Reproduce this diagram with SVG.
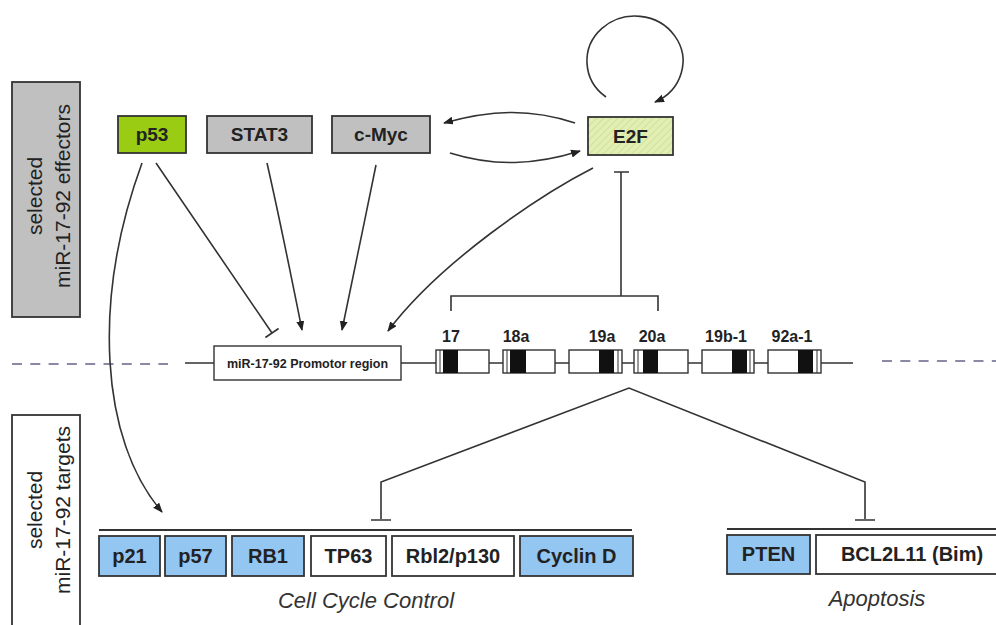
<svg xmlns="http://www.w3.org/2000/svg" width="996" height="625" viewBox="0 0 996 625">
<style>
text{font-family:"Liberation Sans",Arial,sans-serif;fill:#222}
.lbl{font-size:21px;text-anchor:middle}
.nb{font-size:19px;font-weight:bold;text-anchor:middle}
.tb{font-size:20px;font-weight:bold;text-anchor:middle}
.gl{font-size:16px;font-weight:bold;text-anchor:middle}
.cat{font-size:22px;font-style:italic;text-anchor:middle;fill:#333}
.box{stroke:#333;stroke-width:1.8}
.gray{fill:#c0c0c0}
.blue{fill:#94c6f2}
.white{fill:#fff}
.ln{fill:none;stroke:#333;stroke-width:1.6}
.dash{fill:none;stroke:#8a8aa6;stroke-width:2.2;stroke-dasharray:10 8.3}
.gene{fill:#fff;stroke:#333;stroke-width:1.4}
</style>
<defs>
<marker id="arr" markerUnits="userSpaceOnUse" markerWidth="11" markerHeight="9" refX="9" refY="4" orient="auto">
<path d="M0,0 L10,4 L0,8 z" fill="#222"/>
</marker>
<pattern id="hatch" patternUnits="userSpaceOnUse" width="5" height="5" patternTransform="rotate(45)">
<rect width="5" height="5" fill="#e2efb4"/>
<line x1="0" y1="0" x2="0" y2="5" stroke="#c9dc8c" stroke-width="1.4"/>
</pattern>
</defs>
<rect width="996" height="625" fill="#fff"/>

<g id="label-effectors">
<rect class="box gray" x="12" y="82" width="68" height="235"/>
<text class="lbl" transform="translate(42,196) rotate(-90)">selected</text>
<text class="lbl" transform="translate(70,196) rotate(-90)">miR-17-92 effectors</text>
</g>
<g id="label-targets">
<rect class="box white" x="12" y="415" width="68" height="230"/>
<text class="lbl" transform="translate(42,510) rotate(-90)">selected</text>
<text class="lbl" transform="translate(70,510) rotate(-90)">miR-17-92 targets</text>
</g>

<g id="connectors">
<path class="dash" d="M12,364 H168"/>
<path class="dash" d="M882,361 H996"/>
<path class="ln" d="M185,363 H214 M401,363 H853"/>
<!-- E2F self loop -->
<path class="ln" d="M606,97 A48,45 0 1 1 655,102" marker-end="url(#arr)"/>
<!-- E2F -> c-Myc -->
<path class="ln" d="M575,123 C530,108 490,110 444,123" marker-end="url(#arr)"/>
<!-- c-Myc -> E2F -->
<path class="ln" d="M450,153 C495,167 535,165 580,151" marker-end="url(#arr)"/>
<!-- E2F -> promotor -->
<path class="ln" d="M593,168 C540,195 440,262 388,331" marker-end="url(#arr)"/>
<!-- genes -| E2F -->
<path class="ln" d="M621,172 V296 M614,172 H629"/>
<path class="ln" d="M451,311 V296 H658 V311"/>
<!-- p53 -| promotor -->
<path class="ln" d="M156,163 L272,333 M265.4,337.5 L278.6,328.5"/>
<!-- STAT3 -> promotor -->
<path class="ln" d="M267,163 C280,220 292,280 302,330" marker-end="url(#arr)"/>
<!-- c-Myc -> promotor -->
<path class="ln" d="M376,165 C365,220 352,280 342,330" marker-end="url(#arr)"/>
<!-- p53 -> p21 -->
<path class="ln" d="M142,163 C92,300 100,440 162,512" marker-end="url(#arr)"/>
<!-- 20a -| targets -->
<path class="ln" d="M381,519 V482 L629,388 L865,482 V519"/>
<path class="ln" d="M371,520 H391 M855,520 H875"/>
<path class="ln" d="M99,530 H632 M727,529 H996" style="stroke-width:2"/>
</g>

<g id="node-p53"><rect class="box" fill="#9acc14" x="118" y="116" width="68" height="37"/><text class="nb" x="152" y="141">p53</text></g>
<g id="node-stat3"><rect class="box gray" x="207" y="116" width="105" height="37"/><text class="nb" x="259.5" y="141">STAT3</text></g>
<g id="node-cmyc"><rect class="box gray" x="332" y="116" width="98" height="37"/><text class="nb" x="381" y="141">c-Myc</text></g>
<g id="node-e2f"><rect class="box" fill="url(#hatch)" x="588" y="117" width="85" height="38"/><text class="nb" x="630.5" y="143">E2F</text></g>

<g id="node-promotor"><rect class="box white" x="214" y="346" width="187" height="34" style="stroke-width:1.4"/><text x="307.5" y="368" style="font-size:12.5px;font-weight:bold;text-anchor:middle">miR-17-92 Promotor region</text></g>

<g id="gene-17"><rect class="gene" x="436" y="350" width="53" height="23"/><line x1="440" y1="350" x2="440" y2="373" stroke="#333"/><rect x="443" y="350" width="15" height="23" fill="#111"/><text class="gl" x="451" y="342">17</text></g>
<g id="gene-18a"><rect class="gene" x="503" y="350" width="52" height="23"/><line x1="507" y1="350" x2="507" y2="373" stroke="#333"/><rect x="510" y="350" width="16" height="23" fill="#111"/><text class="gl" x="516" y="342">18a</text></g>
<g id="gene-19a"><rect class="gene" x="569" y="350" width="53" height="23"/><line x1="618" y1="350" x2="618" y2="373" stroke="#333"/><rect x="599" y="350" width="15" height="23" fill="#111"/><text class="gl" x="602" y="342">19a</text></g>
<g id="gene-20a"><rect class="gene" x="634" y="350" width="54" height="23"/><line x1="638" y1="350" x2="638" y2="373" stroke="#333"/><rect x="643" y="350" width="15" height="23" fill="#111"/><text class="gl" x="652" y="342">20a</text></g>
<g id="gene-19b-1"><rect class="gene" x="702" y="350" width="52" height="23"/><line x1="750" y1="350" x2="750" y2="373" stroke="#333"/><rect x="732" y="350" width="15" height="23" fill="#111"/><text class="gl" x="726" y="342">19b-1</text></g>
<g id="gene-92a-1"><rect class="gene" x="768" y="350" width="53" height="23"/><line x1="817" y1="350" x2="817" y2="373" stroke="#333"/><rect x="798" y="350" width="15" height="23" fill="#111"/><text class="gl" x="792" y="342">92a-1</text></g>

<g id="node-p21"><rect class="box blue" x="99" y="536" width="61" height="40"/><text class="tb" x="129.5" y="563">p21</text></g>
<g id="node-p57"><rect class="box blue" x="165" y="536" width="61" height="40"/><text class="tb" x="195.5" y="563">p57</text></g>
<g id="node-rb1"><rect class="box blue" x="232" y="536" width="72" height="40"/><text class="tb" x="268" y="563">RB1</text></g>
<g id="node-tp63"><rect class="box white" x="311" y="536" width="75" height="40"/><text class="tb" x="348.5" y="563">TP63</text></g>
<g id="node-rbl2"><rect class="box white" x="392" y="536" width="122" height="40"/><text class="tb" x="453" y="563">Rbl2/p130</text></g>
<g id="node-cyclind"><rect class="box blue" x="520" y="536" width="113" height="40"/><text class="tb" x="576.5" y="563">Cyclin D</text></g>
<g id="node-pten"><rect class="box blue" x="727" y="535" width="83" height="39"/><text class="tb" x="768.5" y="561">PTEN</text></g>
<g id="node-bcl2l11"><rect class="box white" x="816" y="535" width="186" height="39"/><text class="tb" x="912" y="561">BCL2L11 (Bim)</text></g>

<text class="cat" x="366" y="608">Cell Cycle Control</text>
<text class="cat" x="877" y="606">Apoptosis</text>
</svg>
